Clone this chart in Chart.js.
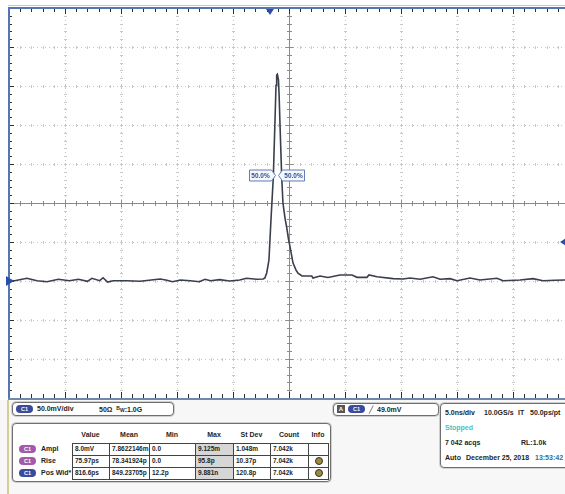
<html>
<head>
<title>Scope capture</title>
<script src="https://cdn.jsdelivr.net/npm/chart.js@4.4.0/dist/chart.umd.min.js"></script>
<style>
  body { margin: 0; background: #fff; }
  #page { position: relative; width: 565px; height: 494px; overflow: hidden; background: #fff; }
  #plot { position: absolute; left: 0; top: 0; }
  #panel { position: absolute; left: 0; top: 400px; width: 565px; height: 94px; background: #f7f7f7; }
  #panel .edge { position: absolute; left: 7px; top: 0; width: 2px; height: 94px; background: #d9cc98; }
  .box { position: absolute; border: 1px solid #6f6f6f; border-radius: 4px; background: #fff; box-shadow: 0 0 0 1px #d0d0d0; }
  .t { position: absolute; font: bold 7px "Liberation Sans", Arial, sans-serif; color: #1e1e1e; white-space: nowrap; line-height: 9px; }
  .pill { position: absolute; width: 17px; height: 8px; border-radius: 5px; color: #fff; font: bold 5.5px "Liberation Sans", Arial, sans-serif; text-align: center; line-height: 8px; }
  .cell { position: absolute; border: 1px solid #444; background: #fff; box-sizing: border-box; font: bold 6.5px "Liberation Sans", Arial, sans-serif; color: #1e1e1e; padding-left: 2px; line-height: 10px; white-space: nowrap; overflow: hidden; }
</style>
</head>
<body>
<div id="page">
  <canvas id="plot" width="580" height="402"></canvas>

  <div id="panel"><div class="edge"></div></div>

  <!-- channel box -->
  <div class="box" style="left:12px; top:402px; width:160px; height:12px;">
    <div class="pill" style="left:3px; top:2px; background:#3a4a9c;">C1</div>
    <div class="t" style="left:24px; top:1px;">50.0mV/div</div>
    <div class="t" style="left:86px; top:1px;">50Ω &nbsp;<span style="font-size:5px; vertical-align:2px;">B</span><span style="font-size:5px;">W</span>:1.0G</div>
  </div>

  <!-- measurement table -->
  <div class="box" id="meas" style="left:12px; top:423px; width:317px; height:57px;"></div>

  <!-- trigger box -->
  <div class="box" style="left:333px; top:403px; width:104px; height:11px;">
    <div style="position:absolute; left:3px; top:1px; width:8px; height:8px; background:#555; color:#fff; font:bold 6px 'Liberation Sans'; text-align:center; line-height:8px;">A</div>
    <div class="pill" style="left:14px; top:1px; background:#3a4a9c;">C1</div>
    <div class="t" style="left:35px; top:1px; font-weight:normal;">╱</div>
    <div class="t" style="left:43px; top:1px;">49.0mV</div>
  </div>

  <!-- timebase box -->
  <div class="box" style="left:440px; top:403px; width:135px; height:63px;">
    <div class="t" style="left:4px; top:4px;">5.0ns/div</div>
    <div class="t" style="left:43px; top:4px;">10.0GS/s</div>
    <div class="t" style="left:77px; top:4px;">IT</div>
    <div class="t" style="left:89px; top:4px;">50.0ps/pt</div>
    <div class="t" style="left:4px; top:19px; color:#46c3c3;">Stopped</div>
    <div class="t" style="left:4px; top:34px;">7 042 acqs</div>
    <div class="t" style="left:80px; top:34px;">RL:1.0k</div>
    <div class="t" style="left:4px; top:49px;">Auto</div>
    <div class="t" style="left:25px; top:49px;">December 25, 2018</div>
    <div class="t" style="left:94px; top:49px; color:#2f6f98;">13:53:42</div>
  </div>
</div>

<script>
  // trace samples: time in ns (5 ns/div), voltage in mV (50 mV/div)
  const timeNs = [
    -25, -24.5, -23.4, -22.5, -21.6, -20.6, -19.6, -18.8, -18.0, -17.6,
    -16.9, -16.6, -16.2, -15.7, -14.5, -13.3, -12.1, -11.5, -10.9, -10.4,
    -9.7, -8.8, -8.0, -7.5, -7.0, -6.2, -5.3, -4.4, -3.8, -2.9,
    -2.3, -2.15, -1.99, -1.79, -1.61, -1.40, -1.25, -1.16, -1.10, -1.04,
    -0.94, -0.89, -0.76, -0.65, -0.54, -0.36, -0.21, -0.04, 0.09, 0.36,
    0.63, 0.80, 1.16, 2.03, 2.14, 2.77, 3.48, 4.55, 5.63, 6.07,
    6.96, 7.14, 7.86, 9.29, 10.18, 10.8, 11.7, 12.86, 13.48, 14.38,
    15.0, 16.16, 17.05, 18.57, 19.11, 20.63, 21.79, 22.68, 23.75, 24.64, 25
  ];
  const voltMv = [
    -99.4, -99.6, -96.5, -99.6, -100.9, -97.8, -99.6, -97.8, -100.4, -96.5,
    -99.6, -95.8, -101.3, -99.6, -99.6, -100.4, -98.3, -97.4, -99.1, -100.9,
    -98.7, -99.6, -100.9, -97.8, -99.6, -98.3, -100.0, -98.7, -96.5, -97.8,
    -97.4, -96.0, -89.7, -73.1, -21.8, 33.3, 106, 151, 164, 165,
    158, 141, 81, 33, 0, -19, -31, -47, -56, -77,
    -86, -90, -93.6, -93.6, -96.2, -93.6, -95.5, -92.3, -92.3, -95.3,
    -95.3, -92.3, -94.5, -97.0, -97.4, -96.2, -97.8, -94.5, -97.8, -97.0,
    -99.6, -96.2, -98.7, -96.5, -99.6, -98.7, -97.0, -99.6, -99.1, -98.7, -98.7
  ];

  // grid divisions
  const xDivs = [-25, -20, -15, -10, -5, 0, 5, 10, 15, 20, 25];
  const yDivs = [-250, -200, -150, -100, -50, 0, 50, 100, 150, 200, 250];

  // measurement table
  const measHeaders = ['Value', 'Mean', 'Min', 'Max', 'St Dev', 'Count', 'Info'];
  const measNames = ['Ampl', 'Rise', 'Pos Wid*'];
  const measPills = ['#a45aa8', '#a45aa8', '#3a4a9c'];
  const measRows = [
    ['8.0mV', '7.8622146m', '0.0', '9.125m', '1.048m', '7.042k', ''],
    ['75.97ps', '78.341924p', '0.0', '95.8p', '10.37p', '7.042k', 'i'],
    ['816.6ps', '849.23705p', '12.2p', '9.881n', '120.8p', '7.042k', 'i']
  ];

  const meas = document.getElementById('meas');
  const colX = [59, 96, 136, 182, 220, 257, 295, 315]; // relative to box
  measHeaders.forEach((h, i) => {
    const d = document.createElement('div');
    d.className = 't';
    d.style.left = colX[i] + 'px';
    d.style.width = (colX[i + 1] - colX[i]) + 'px';
    d.style.textAlign = 'center';
    d.style.top = '6px';
    d.textContent = h;
    meas.appendChild(d);
  });
  measRows.forEach((row, r) => {
    const top = 19 + r * 12;
    const pill = document.createElement('div');
    pill.className = 'pill';
    pill.style.left = '6px';
    pill.style.top = (top + 2) + 'px';
    pill.style.background = measPills[r];
    pill.textContent = 'C1';
    meas.appendChild(pill);
    const name = document.createElement('div');
    name.className = 't';
    name.style.left = '28px';
    name.style.top = (top + 1) + 'px';
    name.textContent = measNames[r];
    meas.appendChild(name);
    row.forEach((v, c) => {
      const cell = document.createElement('div');
      cell.className = 'cell';
      cell.style.left = colX[c] + 'px';
      cell.style.top = top + 'px';
      cell.style.width = (colX[c + 1] - colX[c] + 1) + 'px';
      cell.style.height = '13px';
      if (c === 3) cell.style.background = '#d6d6d6';
      if (v === 'i') {
        cell.innerHTML = '<div style="width:8px;height:8px;border-radius:50%;background:#a08a3a;border:1px solid #333;margin:1px auto 0 4px;box-sizing:border-box;"></div>';
      } else {
        cell.textContent = v;
      }
      meas.appendChild(cell);
    });
  });

  const scopePlugin = {
    id: 'scope',
    beforeDatasetsDraw(chart) {
      const { ctx, chartArea: a, scales: { x, y } } = chart;
      const cx = Math.round(x.getPixelForValue(0)) + 0.5;
      const cy = Math.round(y.getPixelForValue(0)) + 0.5;
      ctx.save();

      // dotted graticule
      ctx.strokeStyle = '#c4c4c4';
      ctx.lineWidth = 1;
      ctx.setLineDash([1, 3]);
      ctx.beginPath();
      xDivs.forEach(t => {
        const px = Math.round(x.getPixelForValue(t)) + 0.5;
        ctx.moveTo(px, a.top); ctx.lineTo(px, a.bottom);
      });
      yDivs.forEach(v => {
        const py = Math.round(y.getPixelForValue(v)) + 0.5;
        ctx.moveTo(a.left, py); ctx.lineTo(a.right, py);
      });
      ctx.stroke();
      ctx.setLineDash([]);

      // small ticks along every grid line
      ctx.strokeStyle = '#c8c8c8';
      ctx.beginPath();
      xDivs.forEach(t => {
        const px = Math.round(x.getPixelForValue(t)) + 0.5;
        for (let v = -250; v <= 250; v += 10) {
          const py = Math.round(y.getPixelForValue(v)) + 0.5;
          ctx.moveTo(px - 1.5, py); ctx.lineTo(px + 1.5, py);
        }
      });
      yDivs.forEach(v => {
        const py = Math.round(y.getPixelForValue(v)) + 0.5;
        for (let t = -25; t <= 25; t += 1) {
          const px = Math.round(x.getPixelForValue(t)) + 0.5;
          ctx.moveTo(px, py - 1.5); ctx.lineTo(px, py + 1.5);
        }
      });
      ctx.stroke();

      // centre cross
      ctx.strokeStyle = '#8a8a8a';
      ctx.beginPath();
      ctx.moveTo(a.left, cy); ctx.lineTo(a.right, cy);
      ctx.moveTo(cx, a.top); ctx.lineTo(cx, a.bottom);
      for (let t = -25; t <= 25; t += 1) {
        const px = Math.round(x.getPixelForValue(t)) + 0.5;
        const len = t % 5 === 0 ? 4 : 2.5;
        ctx.moveTo(px, cy - len); ctx.lineTo(px, cy + len);
      }
      for (let v = -250; v <= 250; v += 10) {
        const py = Math.round(y.getPixelForValue(v)) + 0.5;
        const len = v % 50 === 0 ? 4 : 2.5;
        ctx.moveTo(cx - len, py); ctx.lineTo(cx + len, py);
      }
      ctx.stroke();

      // ticks on the frame edges
      ctx.strokeStyle = '#2e2e2e';
      ctx.beginPath();
      for (let t = -25; t <= 25; t += 1) {
        const px = Math.round(x.getPixelForValue(t)) + 0.5;
        const len = t % 5 === 0 ? 6 : 4;
        ctx.moveTo(px, a.top); ctx.lineTo(px, a.top + len);
        ctx.moveTo(px, a.bottom); ctx.lineTo(px, a.bottom - len);
      }
      for (let v = -250; v <= 250; v += 10) {
        const py = Math.round(y.getPixelForValue(v)) + 0.5;
        const len = v % 50 === 0 ? 5 : 3;
        ctx.moveTo(a.left, py); ctx.lineTo(a.left + len, py);
      }
      ctx.stroke();

      // frame
      ctx.fillStyle = '#d2cf86';
      ctx.fillRect(a.left - 1, a.top - 3, a.right - a.left + 1, 1);
      ctx.fillStyle = '#5674b4';
      ctx.fillRect(a.left - 1, a.top - 1, a.right - a.left + 1, 2);
      ctx.fillRect(a.left - 1, a.top - 1, 2, a.bottom - a.top + 2);
      ctx.fillStyle = '#7187b0';
      ctx.fillRect(a.left - 1, a.bottom, a.right - a.left + 1, 2);
      ctx.restore();
    },
    afterDatasetsDraw(chart) {
      const { ctx, chartArea: a, scales: { x, y } } = chart;
      ctx.save();
      ctx.fillStyle = '#2b4fa8';
      // trigger position
      const tx = x.getPixelForValue(-1.7);
      ctx.beginPath();
      ctx.moveTo(tx - 4, a.top + 1); ctx.lineTo(tx + 4, a.top + 1); ctx.lineTo(tx, a.top + 7);
      ctx.fill();
      // channel ground marker
      const gy = y.getPixelForValue(-100);
      ctx.beginPath();
      ctx.moveTo(a.left - 3, gy - 5); ctx.lineTo(a.left - 3, gy + 5); ctx.lineTo(a.left + 5, gy);
      ctx.fill();
      // trigger level marker
      const ly = y.getPixelForValue(-50);
      const lx = x.getPixelForValue(24.2);
      ctx.beginPath();
      ctx.moveTo(lx, ly); ctx.lineTo(lx + 6, ly - 4); ctx.lineTo(lx + 6, ly + 4);
      ctx.fill();
      ctx.fillRect(lx + 4, ly - 1, 6, 2);

      // 50% level tags
      const yc = Math.round(y.getPixelForValue(36)) + 0.5;
      const tag = (tip, dir) => {
        const w = 22, h = 11, n = 4;
        const inner = tip - dir * n;
        const outer = inner - dir * w;
        ctx.beginPath();
        ctx.moveTo(tip, yc);
        ctx.lineTo(inner, yc - h / 2); ctx.lineTo(outer, yc - h / 2);
        ctx.lineTo(outer, yc + h / 2); ctx.lineTo(inner, yc + h / 2);
        ctx.closePath();
        ctx.fillStyle = '#f4f8fc';
        ctx.fill();
        ctx.strokeStyle = '#5f7fb6';
        ctx.lineWidth = 1;
        ctx.stroke();
        ctx.fillStyle = '#2f4f8f';
        ctx.font = 'bold 6.5px "Liberation Sans", Arial';
        ctx.textAlign = 'center';
        ctx.textBaseline = 'middle';
        ctx.fillText('50.0%', (inner + outer) / 2, yc + 0.5);
      };
      tag(Math.round(x.getPixelForValue(-1.22)) + 0.5, 1);
      tag(Math.round(x.getPixelForValue(-0.98)) + 0.5, -1);
      ctx.restore();
    }
  };

  const ctx = document.getElementById('plot').getContext('2d');
  new Chart(ctx, {
    type: 'line',
    data: {
      datasets: [{
        data: timeNs.map((t, i) => ({ x: t, y: voltMv[i] })),
        borderColor: '#3a3f4c',
        borderWidth: 1.6,
        pointRadius: 0,
        tension: 0
      }]
    },
    options: {
      responsive: false,
      animation: false,
      layout: { padding: { left: 9, top: 8, right: 11, bottom: 4 } },
      plugins: { legend: { display: false }, tooltip: { enabled: false } },
      scales: {
        x: { type: 'linear', min: -25, max: 25, display: false },
        y: { min: -250, max: 250, display: false }
      }
    },
    plugins: [scopePlugin]
  });
</script>
</body>
</html>
